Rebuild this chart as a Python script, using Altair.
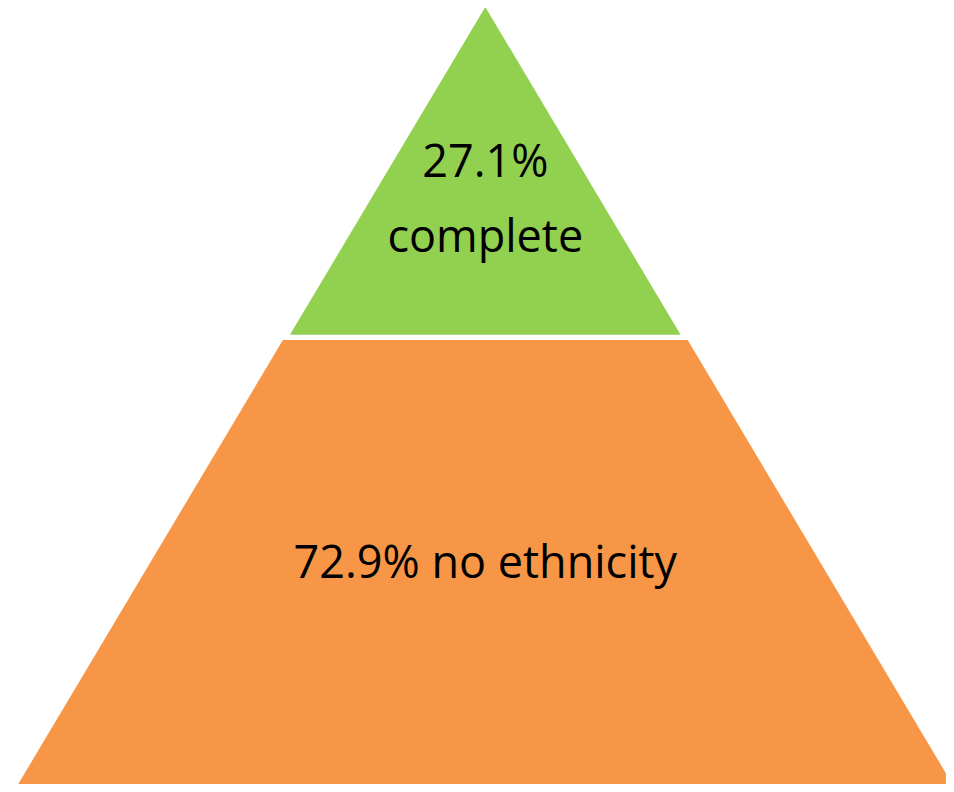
import altair as alt
import pandas as pd

# ---- data ----
tier_names = ["complete", "no ethnicity"]
tier_shares = [27.1, 72.9]
tier_colors = ["#92D050", "#F79646"]
label_lines = [["27.1%", "complete"], ["72.9% no ethnicity"]]

# ---- pyramid layout (in units of pyramid height, apex = 0, base = 1) ----
SLOPE = 0.596                      # half-width per unit of depth
tier_top = [0.0, 0.4242]
tier_bottom = [0.4175, 1.0]
tier_outset = [0.0, 0.005]
label_depths = [[0.2166, 0.312], [0.7274]]

rows = []
for name, top, bot, off in zip(tier_names, tier_top, tier_bottom, tier_outset):
    for d in (top, bot):
        hw = SLOPE * d + (off if d > 0 else 0.0)
        rows.append({"tier": name, "depth": d, "left": -hw, "right": hw})
shape_df = pd.DataFrame(rows)

trows = []
for lines, depths in zip(label_lines, label_depths):
    for t, d in zip(lines, depths):
        trows.append({"text": t, "depth": d, "cx": 0.0})
text_df = pd.DataFrame(trows)

W, H = 938, 776
xscale = alt.Scale(domain=[-477.3 / 785, 460.7 / 785], zero=False, nice=False)
yscale = alt.Scale(domain=[1 / 785, 777 / 785], zero=False, nice=False, reverse=True)

shapes = alt.Chart(shape_df).mark_area(orient="horizontal", opacity=1).encode(
    y=alt.Y("depth:Q", scale=yscale, axis=None),
    x=alt.X("left:Q", scale=xscale, axis=None),
    x2="right:Q",
    color=alt.Color("tier:N", scale=alt.Scale(domain=tier_names, range=tier_colors), legend=None),
)

labels = alt.Chart(text_df).mark_text(
    font="Open Sans", fontSize=45, color="#000000", align="center", baseline="alphabetic"
).encode(
    x=alt.X("cx:Q", scale=xscale, axis=None),
    y=alt.Y("depth:Q", scale=yscale, axis=None),
    text="text:N",
)

chart = (
    alt.layer(shapes, labels)
    .properties(width=W, height=H, padding=0, autosize=alt.AutoSizeParams(type="none"), background="white")
    .configure_view(stroke=None)
)

chart.save("out.html", embed_options={"renderer": "svg", "actions": False})
